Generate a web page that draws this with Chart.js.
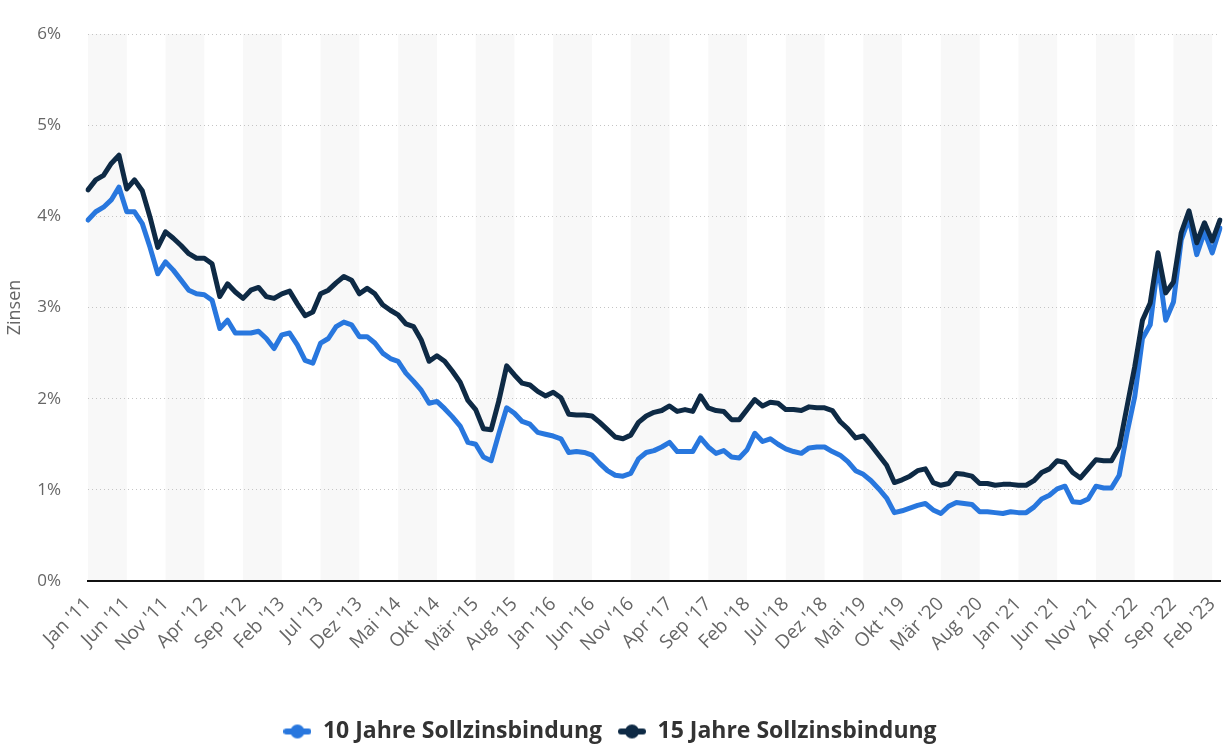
<!DOCTYPE html>
<html lang="de">
<head>
<meta charset="utf-8">
<title>Bauzinsen</title>
<script src="https://cdn.jsdelivr.net/npm/chart.js@4/dist/chart.umd.min.js"></script>
<style>
  html, body { margin: 0; padding: 0; background: #fff; }
  #wrap { width: 1229px; height: 745px; }
</style>
</head>
<body>
<div id="wrap"><canvas id="zinsChart" width="1229" height="745"></canvas></div>
<script>
// Monate Jan '11 bis Mär '23
const monthNames = ["Jan", "Feb", "Mär", "Apr", "Mai", "Jun", "Jul", "Aug", "Sep", "Okt", "Nov", "Dez"];
const startYear = 2011;
const monthCount = 147;

// Zinsen in Prozent
const rate10 = [
  3.96, 4.05, 4.10, 4.18, 4.32, 4.05, 4.05, 3.92, 3.66, 3.37, 3.50, 3.41,
  3.30, 3.19, 3.15, 3.14, 3.08, 2.77, 2.86, 2.72, 2.72, 2.72, 2.74, 2.66,
  2.55, 2.70, 2.72, 2.59, 2.42, 2.39, 2.61, 2.66, 2.79, 2.84, 2.81, 2.68,
  2.68, 2.61, 2.50, 2.44, 2.41, 2.28, 2.19, 2.09, 1.95, 1.97, 1.89, 1.80,
  1.70, 1.52, 1.50, 1.36, 1.32, 1.62, 1.90, 1.84, 1.75, 1.72, 1.63, 1.61,
  1.59, 1.56, 1.41, 1.42, 1.41, 1.38, 1.29, 1.21, 1.16, 1.15, 1.18, 1.34,
  1.41, 1.43, 1.47, 1.52, 1.42, 1.42, 1.42, 1.57, 1.47, 1.40, 1.43, 1.36,
  1.35, 1.44, 1.62, 1.53, 1.56, 1.50, 1.45, 1.42, 1.40, 1.46, 1.47, 1.47,
  1.42, 1.38, 1.31, 1.21, 1.17, 1.10, 1.01, 0.91, 0.75, 0.77, 0.80, 0.83,
  0.85, 0.78, 0.74, 0.82, 0.86, 0.85, 0.84, 0.76, 0.76, 0.75, 0.74, 0.76,
  0.75, 0.75, 0.81, 0.90, 0.94, 1.01, 1.04, 0.87, 0.86, 0.90, 1.04, 1.02,
  1.02, 1.16, 1.62, 2.02, 2.66, 2.81, 3.49, 2.86, 3.06, 3.74, 3.98, 3.58,
  3.83, 3.60, 3.87
];
const rate15 = [
  4.29, 4.40, 4.45, 4.58, 4.67, 4.30, 4.40, 4.28, 3.99, 3.66, 3.83, 3.76,
  3.68, 3.59, 3.54, 3.54, 3.48, 3.12, 3.26, 3.17, 3.10, 3.19, 3.22, 3.12,
  3.10, 3.15, 3.18, 3.04, 2.91, 2.95, 3.15, 3.19, 3.27, 3.34, 3.30, 3.15,
  3.21, 3.15, 3.03, 2.97, 2.92, 2.82, 2.79, 2.64, 2.41, 2.47, 2.41, 2.30,
  2.18, 1.98, 1.88, 1.67, 1.66, 1.98, 2.36, 2.26, 2.17, 2.15, 2.08, 2.03,
  2.07, 2.01, 1.83, 1.82, 1.82, 1.81, 1.74, 1.66, 1.58, 1.56, 1.60, 1.74,
  1.81, 1.85, 1.87, 1.92, 1.86, 1.88, 1.86, 2.03, 1.90, 1.87, 1.86, 1.77,
  1.77, 1.88, 1.99, 1.92, 1.96, 1.95, 1.88, 1.88, 1.87, 1.91, 1.90, 1.90,
  1.87, 1.75, 1.67, 1.57, 1.59, 1.49, 1.38, 1.27, 1.08, 1.11, 1.15, 1.21,
  1.23, 1.08, 1.05, 1.07, 1.18, 1.17, 1.15, 1.07, 1.07, 1.05, 1.06, 1.06,
  1.05, 1.05, 1.10, 1.19, 1.23, 1.32, 1.30, 1.19, 1.13, 1.23, 1.33, 1.32,
  1.32, 1.47, 1.91, 2.35, 2.86, 3.05, 3.60, 3.16, 3.28, 3.82, 4.06, 3.71,
  3.93, 3.73, 3.96
];

const yTicks = [0, 1, 2, 3, 4, 5, 6];
const tickStep = 5; // jede 5. Monatsbeschriftung

const labels = [];
for (let i = 0; i < monthCount; i++) {
  const m = i % 12;
  const y = startYear + Math.floor(i / 12);
  labels.push(monthNames[m] + " '" + String(y).slice(2));
}

const blue = "#2877de";
const navy = "#0e2a45";

// kleines Legendensymbol: Linie mit Punkt
function legendIcon(color) {
  const c = document.createElement("canvas");
  c.width = 28;
  c.height = 16;
  const g = c.getContext("2d");
  g.strokeStyle = color;
  g.lineWidth = 6;
  g.lineCap = "round";
  g.beginPath();
  g.moveTo(3, 8);
  g.lineTo(25, 8);
  g.stroke();
  g.fillStyle = color;
  g.beginPath();
  g.arc(14, 8, 7, 0, Math.PI * 2);
  g.fill();
  return c;
}

// graue Streifen hinter dem Diagramm
const stripes = {
  id: "stripes",
  beforeDraw(chart) {
    const { ctx, chartArea, scales } = chart;
    ctx.save();
    ctx.fillStyle = "#fff";
    ctx.fillRect(0, 0, chart.width, chart.height);
    ctx.fillStyle = "#f8f8f8";
    for (let k = 0; k * tickStep < monthCount - 1; k += 2) {
      const x0 = scales.x.getPixelForValue(k * tickStep);
      const x1 = scales.x.getPixelForValue(Math.min((k + 1) * tickStep, monthCount - 1));
      ctx.fillRect(x0, chartArea.top, x1 - x0, chartArea.bottom - chartArea.top);
    }
    ctx.restore();
  }
};

const config = {
  type: "line",
  data: {
    labels: labels,
    datasets: [
      {
        label: "10 Jahre Sollzinsbindung",
        data: rate10,
        borderColor: blue,
        backgroundColor: blue,
        borderWidth: 5,
        pointRadius: 0,
        tension: 0,
        borderJoinStyle: "round",
        borderCapStyle: "round",
        order: 1,
      },
      {
        label: "15 Jahre Sollzinsbindung",
        data: rate15,
        borderColor: navy,
        backgroundColor: navy,
        borderWidth: 5,
        pointRadius: 0,
        tension: 0,
        borderJoinStyle: "round",
        borderCapStyle: "round",
        order: 0,
      },
    ],
  },
  options: {
    responsive: false,
    animation: false,
    layout: { padding: { top: 34, right: 9, left: 0, bottom: -8 } },
    plugins: {
      tooltip: { enabled: false },
      legend: {
        position: "bottom",
        labels: {
          usePointStyle: true,
          pointStyleWidth: 28,
          boxHeight: 16,
          padding: 16,
          color: "#333",
          font: { family: "'Open Sans'", size: 23, weight: "bold" },
          sort: (a, b) => a.datasetIndex - b.datasetIndex,
          generateLabels(chart) {
            const items = Chart.defaults.plugins.legend.labels.generateLabels(chart);
            items.forEach(it => {
              it.pointStyle = legendIcon(chart.data.datasets[it.datasetIndex].borderColor);
            });
            return items;
          },
        },
      },
    },
    scales: {
      x: {
        offset: false,
        grid: { display: false },
        border: { display: true, color: "#111", width: 2 },
        ticks: {
          autoSkip: false,
          maxRotation: 45,
          minRotation: 45,
          padding: 4,
          color: "#666",
          font: { family: "'Open Sans'", size: 19 },
          callback: (v, i) => (i % tickStep === 0 ? labels[i] : null),
        },
        afterFit: scale => {
          scale.height = 123;
          scale.paddingLeft = 0;
          scale.paddingRight = 0;
        },
      },
      y: {
        min: 0,
        max: 6,
        afterBuildTicks: scale => { scale.ticks = yTicks.map(v => ({ value: v })); },
        grid: {
          drawTicks: false,
          color: ctx => (ctx.tick && ctx.tick.value === 0 ? "rgba(0,0,0,0)" : "#c4c4c4"),
          lineWidth: 1,
        },
        border: { display: false, dash: [1, 3] },
        ticks: {
          padding: 27,
          color: "#666",
          font: { family: "'Open Sans'", size: 17 },
          callback: v => v + "%",
        },
        title: {
          display: true,
          text: "Zinsen",
          color: "#666",
          font: { family: "'Open Sans'", size: 18 },
          padding: { top: 4, bottom: 0 },
        },
        afterFit: scale => {
          scale.width = 88;
          scale.paddingTop = 0;
          scale.paddingBottom = 0;
        },
      },
    },
  },
  plugins: [stripes],
};

new Chart(document.getElementById("zinsChart"), config);
</script>
</body>
</html>
